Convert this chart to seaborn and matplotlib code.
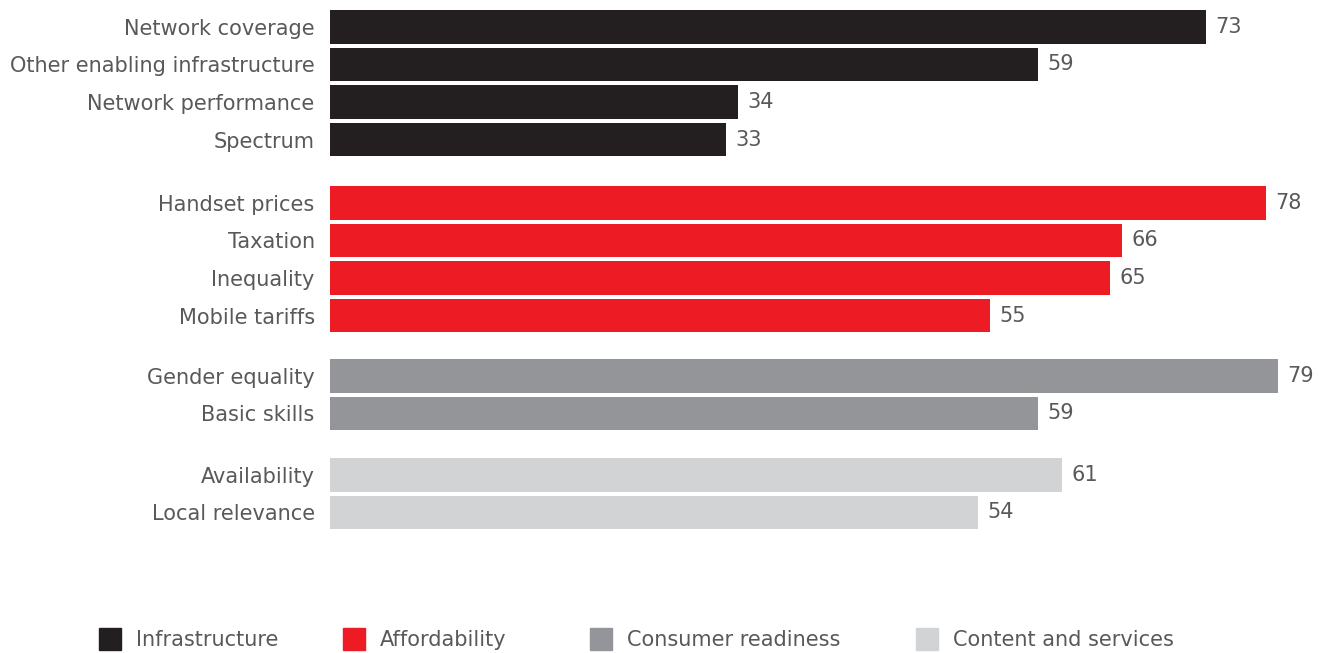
import matplotlib
matplotlib.use("Agg")
import matplotlib.pyplot as plt
from matplotlib.lines import Line2D
import pandas as pd
import seaborn as sns

# Barrier categories and their scores
infra_labels = ["Network coverage", "Other enabling infrastructure", "Network performance", "Spectrum"]
infra_values = [73, 59, 34, 33]

afford_labels = ["Handset prices", "Taxation", "Inequality", "Mobile tariffs"]
afford_values = [78, 66, 65, 55]

consumer_labels = ["Gender equality", "Basic skills"]
consumer_values = [79, 59]

content_labels = ["Availability", "Local relevance"]
content_values = [61, 54]

group_names = ["Infrastructure", "Affordability", "Consumer readiness", "Content and services"]
group_colors = ["#231f20", "#ed1c24", "#939598", "#d1d3d4"]

TEXT = "#58595b"
FS = 15

sns.set_theme(style="white")
plt.rcParams["font.family"] = ["DejaVu Sans"]

W, H = 1321, 653
fig = plt.figure(figsize=(W / 100, H / 100), dpi=100)

groups = [
    (infra_labels, infra_values),
    (afford_labels, afford_values),
    (consumer_labels, consumer_values),
    (content_labels, content_values),
]
# vertical extents of each group panel (pixel rows, top/bottom)
extents = [(8.25, 158.25), (184.25, 334.25), (357.25, 432.25), (456.25, 531.25)]

left = 330 / W
xmax = (W - 330) / 12.0

for (labels, values), color, (top, bot) in zip(groups, group_colors, extents):
    ax = fig.add_axes([left, 1 - bot / H, 1 - left, (bot - top) / H])
    df = pd.DataFrame({"label": labels, "value": values})
    sns.barplot(data=df, x="value", y="label", orient="h", color=color,
                saturation=1, width=0.9, linewidth=0, ax=ax)
    ax.bar_label(ax.containers[0], labels=[str(v) for v in values],
                 padding=7, fontsize=FS, color=TEXT)
    ax.set_xlim(0, xmax)
    ax.set_xlabel("")
    ax.set_ylabel("")
    ax.set_xticks([])
    ax.tick_params(axis="y", length=0, pad=11, labelsize=FS, labelcolor=TEXT)
    for s in ax.spines.values():
        s.set_visible(False)
    ax.set_facecolor("none")

# one legend entry per group, laid out along the bottom
legend_x = [99, 343, 590, 916]
for name, color, x in zip(group_names, group_colors, legend_x):
    handle = Line2D([0], [0], marker="s", linestyle="none", markersize=16,
                    markerfacecolor=color, markeredgecolor=color)
    fig.legend([handle], [name], loc="center left",
               bbox_to_anchor=(x / W, 1 - 640 / H), frameon=False,
               fontsize=FS, labelcolor=TEXT, handletextpad=0.67,
               handlelength=1.1, borderpad=0, borderaxespad=0)

fig.savefig("out.png", dpi=100, facecolor="white")
